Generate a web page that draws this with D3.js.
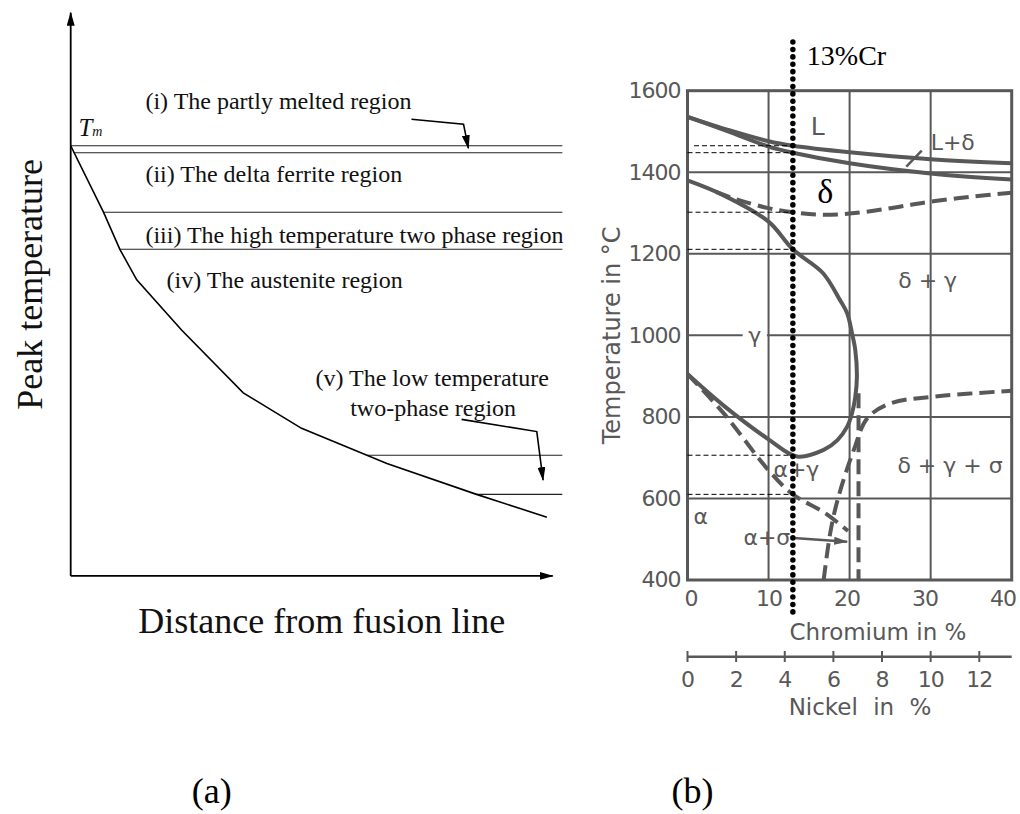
<!DOCTYPE html>
<html>
<head>
<meta charset="utf-8">
<script src="https://cdn.jsdelivr.net/npm/d3@7"></script>
<style>
	body { margin: 0; background: #fff; }
	svg { display: block; }
</style>
</head>
<body>
<div class="svg-container"></div>
<script>
(function () {

	"use strict";

	// (a) peak temperature against distance, read in the temperature units of (b)
	var peak_dist = [0, 0.68, 1.02, 1.37, 2.30, 3.58, 4.79, 6.56, 8.42, 9.88];
	var peak_temp = [1465, 1302, 1211, 1136, 1013, 859, 772, 686, 610, 554];
	var region_temps = [1465, 1448, 1302, 1211, 706, 610];

	// (b) Fe-Cr-Ni section, [Cr %, T]
	var liquidus = [[0, 1536], [5, 1504], [10, 1476], [13, 1465], [20, 1449], [30, 1432], [40, 1422]];
	var solidus = [[0, 1536], [5, 1500], [10, 1463], [13, 1448], [20, 1422], [30, 1397], [40, 1382]];
	var delta_solvus = [[3.5, 1352], [6, 1334], [10, 1312], [13, 1302], [16, 1296], [19, 1297], [22, 1303], [26, 1315], [30, 1328], [35, 1340], [40, 1350]];
	var gamma_loop = [[0, 1380], [4.4, 1344], [10, 1279], [13, 1211], [16.7, 1153], [18.8, 1087], [19.7, 1054], [20.3, 1005], [20.7, 964], [20.9, 898], [20.7, 849], [20.3, 809], [19.7, 776], [18.5, 743], [16.8, 719], [13.5, 703], [10, 745], [4.5, 827], [0, 905]];
	var alpha_line = [[0, 905], [4.5, 808], [10, 669], [13, 610], [17, 564], [19.8, 520]];
	var sigma_solvus = [[16.8, 400], [17.6, 514], [18.5, 595], [20.5, 718], [22.2, 797], [25, 833], [30, 849], [40, 864]];
	var sigma_limit = [[21.1, 858], [21.1, 400]];
	var cr_13 = 13;

	var temp_ticks = [400, 600, 800, 1000, 1200, 1400, 1600];
	var cr_ticks = [0, 10, 20, 30, 40];
	var ni_ticks = [0, 2, 4, 6, 8, 10, 12];

	var gray = "#585858",
		serif = "'Liberation Serif', 'Times New Roman', serif",
		sans = "'DejaVu Sans', sans-serif";

	var svg = d3.select(".svg-container").append("svg")
		.attr("width", 1020)
		.attr("height", 814)
		.style("background", "#fff");

	var defs = svg.append("defs");
	[["head", "#000"], ["head_gray", gray]].forEach(function (m) {
		defs.append("marker")
			.attr("id", m[0])
			.attr("viewBox", "0 0 14 8")
			.attr("refX", 13)
			.attr("refY", 4)
			.attr("markerWidth", 14)
			.attr("markerHeight", 8)
			.attr("markerUnits", "userSpaceOnUse")
			.attr("orient", "auto")
			.append("path")
			.attr("d", "M0,0 L14,4 L0,8 Z")
			.attr("fill", m[1]);
	});

	// shared temperature scale
	var y = d3.scaleLinear().domain([400, 1600]).range([580, 90.7]);

	// ---------- (a) ----------
	var xa = d3.scaleLinear().domain([0, 10]).range([70.7, 552.7]);
	var a = svg.append("g");

	var peak = peak_dist.map(function (d, i) { return [d, peak_temp[i]]; });

	// where the peak curve reaches a temperature
	function dist_at(t) {
		for (var i = 0; i < peak.length - 1; i++) {
			var p = peak[i], q = peak[i + 1];
			if (t <= p[1] && t >= q[1]) {
				return p[0] + (q[0] - p[0]) * (p[1] - t) / (p[1] - q[1]);
			}
		}
		return 0;
	}

	a.selectAll(".region")
		.data(region_temps)
		.enter()
		.append("line")
		.attr("class", "region")
		.attr("x1", function (d) { return xa(dist_at(d)); })
		.attr("x2", xa(10.2))
		.attr("y1", function (d) { return y(d); })
		.attr("y2", function (d) { return y(d); })
		.attr("stroke", "#222")
		.attr("stroke-width", 1.1);

	a.append("path")
		.attr("d", d3.line().x(function (d) { return xa(d[0]); }).y(function (d) { return y(d[1]); })(peak))
		.attr("fill", "none")
		.attr("stroke", "#000")
		.attr("stroke-width", 1.6);

	// axes with arrow heads
	a.append("line")
		.attr("x1", xa(0)).attr("y1", y(410))
		.attr("x2", xa(0)).attr("y2", 12.7)
		.attr("stroke", "#000").attr("stroke-width", 1.8)
		.attr("marker-end", "url(#head)");
	a.append("line")
		.attr("x1", xa(0)).attr("y1", y(410))
		.attr("x2", xa(10)).attr("y2", y(410))
		.attr("stroke", "#000").attr("stroke-width", 1.8)
		.attr("marker-end", "url(#head)");

	var callout = d3.line().x(function (d) { return xa(d[0]); }).y(function (d) { return y(d[1]); });
	a.append("path")
		.attr("d", callout([[7.07, 1530], [8.15, 1518], [8.25, 1459]]))
		.attr("fill", "none").attr("stroke", "#000").attr("stroke-width", 1.6)
		.attr("marker-end", "url(#head)");
	a.append("path")
		.attr("d", callout([[8.11, 794], [9.67, 764], [9.80, 645]]))
		.attr("fill", "none").attr("stroke", "#000").attr("stroke-width", 1.6)
		.attr("marker-end", "url(#head)");

	var a_text = a.append("g")
		.attr("font-family", serif)
		.attr("font-size", 24)
		.attr("fill", "#111");
	a_text.append("text").attr("x", xa(1.55)).attr("y", y(1554)).text("(i) The partly melted region");
	a_text.append("text").attr("x", xa(1.55)).attr("y", y(1377)).text("(ii) The delta ferrite region");
	a_text.append("text").attr("x", xa(1.55)).attr("y", y(1226)).text("(iii) The high temperature two phase region");
	a_text.append("text").attr("x", xa(1.99)).attr("y", y(1115)).text("(iv) The austenite region");
	a_text.append("text").attr("x", xa(7.5)).attr("y", y(876)).attr("text-anchor", "middle").text("(v) The low temperature");
	a_text.append("text").attr("x", xa(7.52)).attr("y", y(802)).attr("text-anchor", "middle").text("two-phase region");

	var tm = a_text.append("text").attr("x", xa(0.16)).attr("y", y(1489)).attr("font-style", "italic");
	tm.append("tspan").attr("font-size", 25).text("T");
	tm.append("tspan").attr("font-size", 14).text("m");

	a_text.append("text")
		.attr("transform", "translate(41.7," + y(1125) + ") rotate(-90)")
		.attr("text-anchor", "middle")
		.attr("font-size", 36)
		.text("Peak temperature");
	a_text.append("text")
		.attr("x", xa(5.21))
		.attr("y", 633)
		.attr("text-anchor", "middle")
		.attr("font-size", 36)
		.text("Distance from fusion line");

	// ---------- (b) ----------
	var xc = d3.scaleLinear().domain([0, 40]).range([687.5, 1011.7]);
	var xc_label = d3.scaleLinear().domain([0, 40]).range([691, 1003]);
	var xn = d3.scaleLinear().domain([0, 40 / 3]).range([687.5, 1011.7]);
	var b = svg.append("g");

	b.selectAll(".vgrid")
		.data(cr_ticks.slice(1, -1))
		.enter()
		.append("line")
		.attr("class", "vgrid")
		.attr("x1", function (d) { return xc(d); })
		.attr("x2", function (d) { return xc(d); })
		.attr("y1", y(400)).attr("y2", y(1600))
		.attr("stroke", gray).attr("stroke-width", 2);
	b.selectAll(".hgrid")
		.data(temp_ticks.slice(1, -1))
		.enter()
		.append("line")
		.attr("class", "hgrid")
		.attr("x1", xc(0)).attr("x2", xc(40))
		.attr("y1", function (d) { return y(d); })
		.attr("y2", function (d) { return y(d); })
		.attr("stroke", gray).attr("stroke-width", 2);

	b.append("rect")
		.attr("x", xc(0)).attr("y", y(1600))
		.attr("width", xc(40) - xc(0)).attr("height", y(400) - y(1600))
		.attr("fill", "none").attr("stroke", gray).attr("stroke-width", 3);

	var curve = d3.line()
		.x(function (d) { return xc(d[0]); })
		.y(function (d) { return y(d[1]); })
		.curve(d3.curveCatmullRom.alpha(0.5));

	var solid = [liquidus, solidus, gamma_loop];
	var dashed = [delta_solvus, alpha_line, sigma_solvus, sigma_limit];

	b.selectAll(".phase")
		.data(solid)
		.enter()
		.append("path")
		.attr("class", "phase")
		.attr("d", curve)
		.attr("fill", "none")
		.attr("stroke", gray)
		.attr("stroke-width", 4);
	b.selectAll(".phase_dash")
		.data(dashed)
		.enter()
		.append("path")
		.attr("class", "phase_dash")
		.attr("d", curve)
		.attr("fill", "none")
		.attr("stroke", gray)
		.attr("stroke-width", 4)
		.attr("stroke-dasharray", "15 7");

	// leaders
	b.append("line")
		.attr("x1", xc(27)).attr("y1", y(1414))
		.attr("x2", xc(28.9)).attr("y2", y(1453))
		.attr("stroke", gray).attr("stroke-width", 2.5);
	b.append("line")
		.attr("x1", xc(13.1)).attr("y1", y(503))
		.attr("x2", xc(19.7)).attr("y2", y(494))
		.attr("stroke", gray).attr("stroke-width", 2.5)
		.attr("marker-end", "url(#head_gray)");

	// axis labels
	var b_text = b.append("g")
		.attr("font-family", sans)
		.attr("fill", gray);

	b_text.selectAll(".ytick")
		.data(temp_ticks)
		.enter()
		.append("text")
		.attr("class", "ytick")
		.attr("x", xc(0) - 7)
		.attr("y", function (d) { return y(d); })
		.attr("dy", d3.map ? "0.33em" : "0.33em")
		.attr("text-anchor", "end")
		.attr("font-size", 22)
		.attr("letter-spacing", -1)
		.text(function (d) { return d; });

	b_text.selectAll(".xtick")
		.data(cr_ticks)
		.enter()
		.append("text")
		.attr("class", "xtick")
		.attr("x", function (d) { return xc_label(d); })
		.attr("y", 606)
		.attr("text-anchor", "middle")
		.attr("font-size", 22)
		.attr("letter-spacing", -1)
		.text(function (d) { return d; });

	b_text.append("text")
		.attr("x", 878).attr("y", 640)
		.attr("text-anchor", "middle")
		.attr("font-size", 23)
		.text("Chromium in %");

	// nickel scale
	b.append("line")
		.attr("x1", xn(0)).attr("x2", xc(40))
		.attr("y1", 656.7).attr("y2", 656.7)
		.attr("stroke", gray).attr("stroke-width", 2.5);
	b.selectAll(".ntick")
		.data(ni_ticks)
		.enter()
		.append("line")
		.attr("class", "ntick")
		.attr("x1", function (d) { return xn(d); })
		.attr("x2", function (d) { return xn(d); })
		.attr("y1", 651).attr("y2", 662)
		.attr("stroke", gray).attr("stroke-width", 2);
	b_text.selectAll(".nlabel")
		.data(ni_ticks)
		.enter()
		.append("text")
		.attr("class", "nlabel")
		.attr("x", function (d) { return xn(d); })
		.attr("y", 686.7)
		.attr("text-anchor", "middle")
		.attr("font-size", 22)
		.attr("letter-spacing", -1)
		.text(function (d) { return d; });
	b_text.append("text")
		.attr("x", 860).attr("y", 715)
		.attr("text-anchor", "middle")
		.attr("font-size", 23)
		.attr("word-spacing", 8)
		.text("Nickel in %");

	b_text.append("text")
		.attr("transform", "translate(620," + y(1000) + ") rotate(-90)")
		.attr("text-anchor", "middle")
		.attr("font-size", 24)
		.text("Temperature in °C");

	// phase labels
	var phase_labels = b_text.append("g").attr("font-size", 22);
	phase_labels.append("rect")
		.attr("x", xc(6.8)).attr("y", y(1000) - 3)
		.attr("width", xc(9.8) - xc(6.8)).attr("height", 6)
		.attr("fill", "#fff");
	phase_labels.append("text").attr("x", xc(15.2)).attr("y", y(1491)).attr("font-size", 25).text("L");
	phase_labels.append("text").attr("x", xc(30)).attr("y", y(1455)).text("L+δ");
	phase_labels.append("text").attr("x", xc(26)).attr("y", y(1116)).text("δ + γ");
	phase_labels.append("text").attr("x", xc(7.5)).attr("y", y(981)).text("γ");
	phase_labels.append("text").attr("x", xc(10.6)).attr("y", y(653)).text("α+γ");
	phase_labels.append("text").attr("x", xc(0.75)).attr("y", y(537)).text("α");
	phase_labels.append("text").attr("x", xc(6.9)).attr("y", y(485)).text("α+σ");
	phase_labels.append("text").attr("x", xc(25.9)).attr("y", y(662)).text("δ + γ + σ");

	// projections of the region temperatures from (a)
	b.selectAll(".proj")
		.data(region_temps)
		.enter()
		.append("line")
		.attr("class", "proj")
		.attr("x1", function (d, i) { return xc(i === 0 ? 0.8 : 0); })
		.attr("x2", xc(cr_13))
		.attr("y1", function (d) { return y(d); })
		.attr("y2", function (d) { return y(d); })
		.attr("stroke", "#000")
		.attr("stroke-width", 1)
		.attr("stroke-dasharray", "5 3");

	// 13 % Cr marker
	b.append("line")
		.attr("x1", xc(cr_13)).attr("x2", xc(cr_13))
		.attr("y1", 42).attr("y2", 613)
		.attr("stroke", "#000")
		.attr("stroke-width", 5.5)
		.attr("stroke-linecap", "round")
		.attr("stroke-dasharray", "0.1 7.3");
	b.append("text")
		.attr("x", xc(cr_13) + 14).attr("y", 65)
		.attr("font-family", serif).attr("font-size", 28)
		.attr("fill", "#000")
		.text("13%Cr");
	b.append("text")
		.attr("x", xc(16)).attr("y", y(1325))
		.attr("font-family", serif).attr("font-size", 34)
		.attr("fill", "#000")
		.text("δ");

	// panel captions
	svg.append("g")
		.attr("font-family", serif)
		.attr("font-size", 36)
		.attr("fill", "#000")
		.attr("text-anchor", "middle")
		.selectAll("text")
		.data(["(a)", "(b)"])
		.enter()
		.append("text")
		.attr("x", function (d, i) { return i === 0 ? 211.7 : 692.5; })
		.attr("y", 803)
		.text(function (d) { return d; });

})();
</script>
</body>
</html>
